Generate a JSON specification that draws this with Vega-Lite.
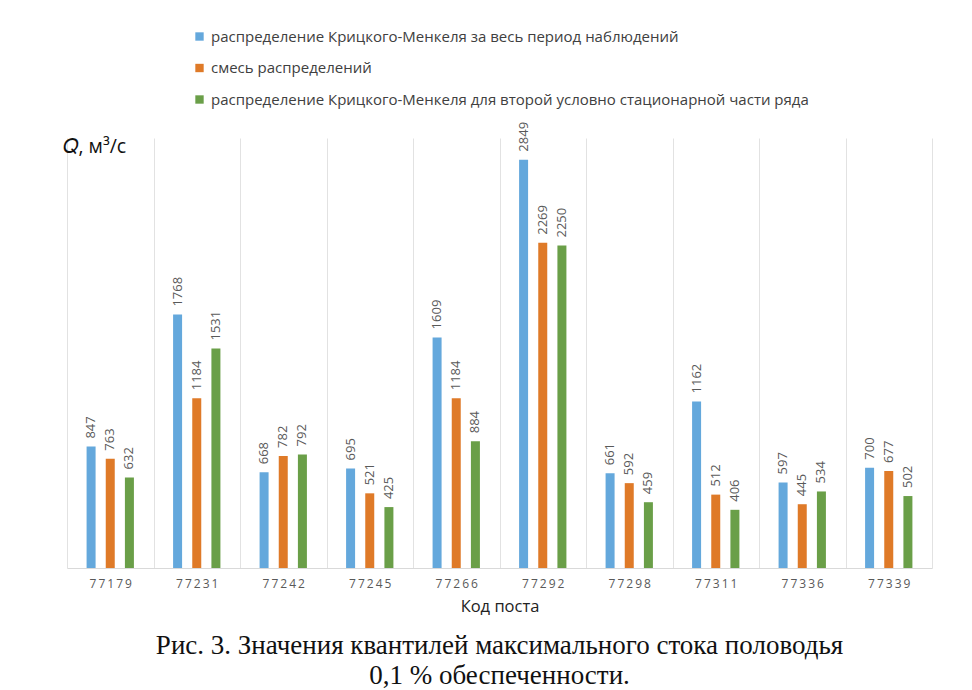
{
  "$schema": "https://vega.github.io/schema/vega-lite/v6.json",
  "width": 865,
  "height": 430,
  "autosize": {"type": "none"},
  "padding": {"left": 67, "top": 138, "right": 40, "bottom": 122},
  "background": "white",
  "config": {"view": {"stroke": null}},
  "data": {
    "values": [
      {"post": "77179", "series": "распределение Крицкого-Менкеля за весь период наблюдений", "value": 847},
      {"post": "77179", "series": "смесь распределений", "value": 763},
      {"post": "77179", "series": "распределение Крицкого-Менкеля для второй условно стационарной части ряда", "value": 632},
      {"post": "77231", "series": "распределение Крицкого-Менкеля за весь период наблюдений", "value": 1768},
      {"post": "77231", "series": "смесь распределений", "value": 1184},
      {"post": "77231", "series": "распределение Крицкого-Менкеля для второй условно стационарной части ряда", "value": 1531},
      {"post": "77242", "series": "распределение Крицкого-Менкеля за весь период наблюдений", "value": 668},
      {"post": "77242", "series": "смесь распределений", "value": 782},
      {"post": "77242", "series": "распределение Крицкого-Менкеля для второй условно стационарной части ряда", "value": 792},
      {"post": "77245", "series": "распределение Крицкого-Менкеля за весь период наблюдений", "value": 695},
      {"post": "77245", "series": "смесь распределений", "value": 521},
      {"post": "77245", "series": "распределение Крицкого-Менкеля для второй условно стационарной части ряда", "value": 425},
      {"post": "77266", "series": "распределение Крицкого-Менкеля за весь период наблюдений", "value": 1609},
      {"post": "77266", "series": "смесь распределений", "value": 1184},
      {"post": "77266", "series": "распределение Крицкого-Менкеля для второй условно стационарной части ряда", "value": 884},
      {"post": "77292", "series": "распределение Крицкого-Менкеля за весь период наблюдений", "value": 2849},
      {"post": "77292", "series": "смесь распределений", "value": 2269},
      {"post": "77292", "series": "распределение Крицкого-Менкеля для второй условно стационарной части ряда", "value": 2250},
      {"post": "77298", "series": "распределение Крицкого-Менкеля за весь период наблюдений", "value": 661},
      {"post": "77298", "series": "смесь распределений", "value": 592},
      {"post": "77298", "series": "распределение Крицкого-Менкеля для второй условно стационарной части ряда", "value": 459},
      {"post": "77311", "series": "распределение Крицкого-Менкеля за весь период наблюдений", "value": 1162},
      {"post": "77311", "series": "смесь распределений", "value": 512},
      {"post": "77311", "series": "распределение Крицкого-Менкеля для второй условно стационарной части ряда", "value": 406},
      {"post": "77336", "series": "распределение Крицкого-Менкеля за весь период наблюдений", "value": 597},
      {"post": "77336", "series": "смесь распределений", "value": 445},
      {"post": "77336", "series": "распределение Крицкого-Менкеля для второй условно стационарной части ряда", "value": 534},
      {"post": "77339", "series": "распределение Крицкого-Менкеля за весь период наблюдений", "value": 700},
      {"post": "77339", "series": "смесь распределений", "value": 677},
      {"post": "77339", "series": "распределение Крицкого-Менкеля для второй условно стационарной части ряда", "value": 502}
    ]
  },
  "title": {
    "text": ["Рис. 3. Значения квантилей максимального стока половодья", "0,1 % обеспеченности."],
    "orient": "bottom",
    "anchor": "middle",
    "font": "Liberation Serif",
    "fontSize": 27,
    "fontWeight": "normal",
    "color": "#111111",
    "lineHeight": 30,
    "offset": 18
  },
  "encoding": {
    "x": {
      "field": "post",
      "type": "nominal",
      "scale": {"paddingInner": 0, "paddingOuter": 0},
      "axis": {
        "title": "Код поста",
        "labelAngle": 0,
        "labelExpr": "join(split(datum.label, ''), '\u2009')",
        "labelColor": "#595959",
        "labelFont": "Open Sans",
        "labelFontSize": 12,
        "labelPadding": 10,
        "ticks": false,
        "tickBand": "extent",
        "grid": true,
        "gridColor": "#e2e2e2",
        "domainColor": "#d9d9d9",
        "titleFont": "Open Sans",
        "titleFontSize": 16.5,
        "titleFontWeight": "normal",
        "titleColor": "#222222",
        "titlePadding": 9
      }
    },
    "xOffset": {
      "field": "series",
      "scale": {
        "domain": ["распределение Крицкого-Менкеля за весь период наблюдений", "смесь распределений", "распределение Крицкого-Менкеля для второй условно стационарной части ряда"],
        "paddingInner": 0.4857,
        "paddingOuter": 1.22
      }
    },
    "y": {
      "field": "value",
      "type": "quantitative",
      "scale": {"domain": [0, 3000]},
      "axis": {
        "title": "𝑄, м³/с",
        "titleAngle": 0,
        "titleX": -5,
        "titleY": 8,
        "titleAlign": "left",
        "titleBaseline": "middle",
        "titleFont": "Open Sans",
        "titleFontSize": 19.5,
        "titleFontWeight": "normal",
        "titleColor": "#111111",
        "labels": false,
        "ticks": false,
        "domain": false,
        "grid": false
      }
    }
  },
  "layer": [
    {
      "mark": {"type": "bar", "width": 9},
      "encoding": {
        "color": {
          "field": "series",
          "type": "nominal",
          "scale": {
            "domain": ["распределение Крицкого-Менкеля за весь период наблюдений", "смесь распределений", "распределение Крицкого-Менкеля для второй условно стационарной части ряда"],
            "range": ["#64a8dc", "#df7a28", "#6a9f48"]
          },
          "legend": {
            "orient": "none",
            "legendX": 125,
            "legendY": -109,
            "title": null,
            "symbolType": "square",
            "symbolSize": 70,
            "symbolStrokeWidth": 0,
            "labelFont": "Open Sans",
            "labelFontSize": 15,
            "labelColor": "#404040",
            "labelLimit": 800,
            "labelOffset": 4,
            "rowPadding": 15.5
          }
        }
      }
    },
    {
      "mark": {"type": "text", "angle": -90, "align": "left", "baseline": "middle", "dx": 8, "font": "Open Sans", "fontSize": 13, "color": "#595959"},
      "encoding": {"text": {"field": "value", "type": "quantitative"}}
    }
  ]
}
